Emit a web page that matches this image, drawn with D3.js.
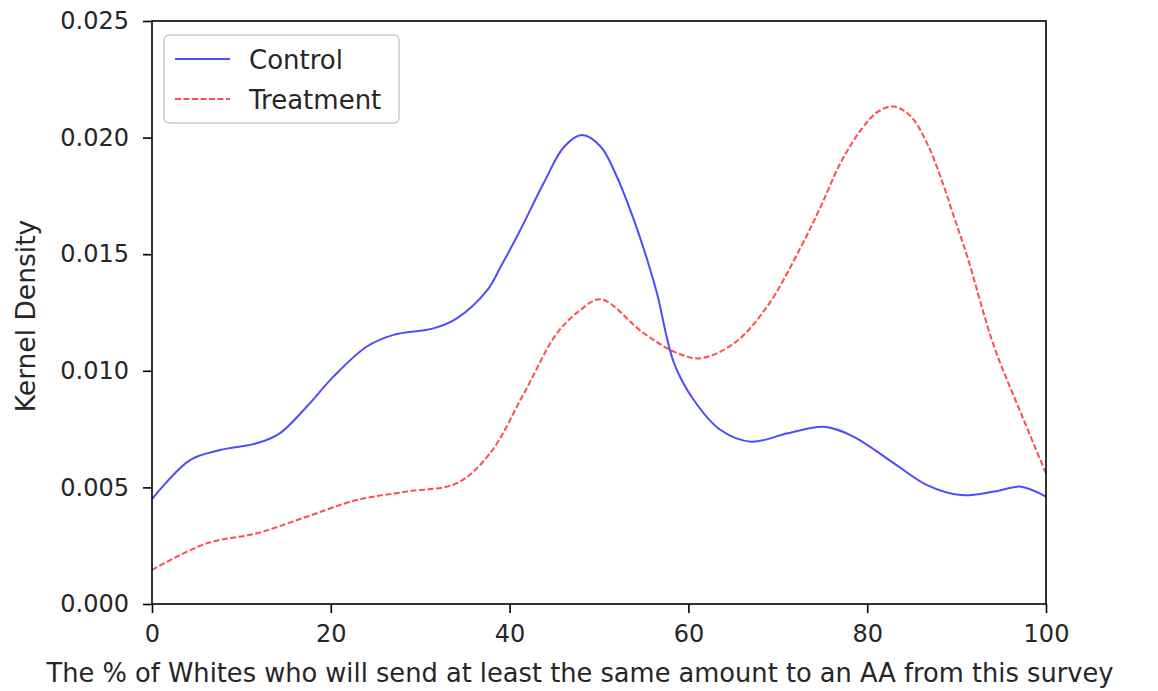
<!DOCTYPE html>
<html>
<head>
<meta charset="utf-8">
<script src="https://cdn.jsdelivr.net/npm/d3@7"></script>
<style>
  body { margin: 0; background: #fff; }
  text { font-family: "DejaVu Sans", sans-serif; fill: #262626; }
</style>
</head>
<body>
<div id="chart"></div>
<script>
// kernel density estimates
const controlX = [0, 4.25, 7.6, 11.7, 14.3, 17.3, 20.3, 24, 27, 31.5, 34.1, 37.5, 39, 41.2, 43.8, 46.1, 48.1, 50.2, 52, 53.9, 55.4, 56.5, 58.4, 60.6, 63.6, 67, 71.1, 75.2, 78.5, 83, 86.7, 90.5, 94.2, 97.2, 100];
const controlY = [0.0045, 0.00617, 0.0066, 0.00689, 0.00732, 0.00846, 0.00975, 0.01103, 0.01154, 0.01182, 0.01225, 0.01346, 0.01446, 0.01604, 0.01804, 0.01961, 0.02011, 0.01961, 0.01832, 0.01647, 0.01475, 0.0133, 0.01032, 0.00875, 0.00746, 0.00696, 0.00732, 0.0076, 0.00717, 0.00603, 0.0051, 0.00467, 0.00482, 0.00503, 0.0046];
const treatX = [0, 6.1, 11.7, 17.3, 22.9, 28.5, 34.1, 37.8, 41.6, 45.3, 47.9, 50.2, 55, 58.8, 61.4, 65.1, 68.8, 72.6, 74.8, 77, 79.3, 81.2, 83, 84.9, 86.7, 88.2, 89.7, 91.2, 94.2, 97.2, 100];
const treatY = [0.00146, 0.0026, 0.00303, 0.00374, 0.00446, 0.00482, 0.00518, 0.00646, 0.00903, 0.01161, 0.0126, 0.01307, 0.01161, 0.01075, 0.01054, 0.01118, 0.01275, 0.01532, 0.01704, 0.0189, 0.02033, 0.02111, 0.02133, 0.0209, 0.01975, 0.01832, 0.01661, 0.01489, 0.01103, 0.00818, 0.0056];
const xTicks = [0, 20, 40, 60, 80, 100];
const yTicks = [0, 0.005, 0.01, 0.015, 0.02, 0.025];
const seriesNames = ["Control", "Treatment"];

const W = 1158, H = 691;
const plotL = 152, plotR = 1046, plotT = 21, plotB = 604;

const svg = d3.select("#chart").append("svg").attr("width", W).attr("height", H);

const x = d3.scaleLinear().domain([0, 100]).range([plotL, plotR]);
const y = d3.scaleLinear().domain([0, 0.025]).range([plotB, plotT]);

const line = d3.line().x(d => x(d[0])).y(d => y(d[1])).curve(d3.curveCatmullRom.alpha(0.5));

svg.append("clipPath").attr("id", "clip")
    .append("rect").attr("x", plotL).attr("y", plotT).attr("width", plotR - plotL).attr("height", plotB - plotT);

svg.append("path")
    .datum(d3.zip(controlX, controlY))
    .attr("d", line)
    .attr("clip-path", "url(#clip)")
    .attr("fill", "none")
    .attr("stroke", "blue")
    .attr("stroke-opacity", 0.7)
    .attr("stroke-width", 2);

svg.append("path")
    .datum(d3.zip(treatX, treatY))
    .attr("d", line)
    .attr("clip-path", "url(#clip)")
    .attr("fill", "none")
    .attr("stroke", "red")
    .attr("stroke-opacity", 0.7)
    .attr("stroke-width", 2)
    .attr("stroke-dasharray", "6,2.5");

// axes
const xAxis = svg.append("g").attr("transform", `translate(0,${plotB})`)
    .call(d3.axisBottom(x).tickValues(xTicks).tickSize(9).tickPadding(12).tickFormat(d3.format("d")));
const yAxis = svg.append("g").attr("transform", `translate(${plotL},0)`)
    .call(d3.axisLeft(y).tickValues(yTicks).tickSize(9).tickPadding(14).tickFormat(d3.format(".3f")));

[xAxis, yAxis].forEach(a => {
    a.select(".domain").remove();
    a.selectAll(".tick line").attr("stroke", "#000").attr("stroke-width", 1.6);
    a.selectAll(".tick text").attr("font-size", 24).attr("fill", "#262626")
        .attr("font-family", "DejaVu Sans, sans-serif");
});

svg.append("rect")
    .attr("x", plotL).attr("y", plotT)
    .attr("width", plotR - plotL).attr("height", plotB - plotT)
    .attr("fill", "none").attr("stroke", "#000").attr("stroke-width", 1.6);

// axis labels
svg.append("text")
    .attr("x", 580).attr("y", 682)
    .attr("text-anchor", "middle").attr("font-size", 25.7)
    .text("The % of Whites who will send at least the same amount to an AA from this survey");

svg.append("text")
    .attr("transform", `translate(35,316) rotate(-90)`)
    .attr("text-anchor", "middle").attr("font-size", 26.5)
    .text("Kernel Density");

// legend
const lg = svg.append("g");
lg.append("rect")
    .attr("x", 164).attr("y", 35).attr("width", 235).attr("height", 88)
    .attr("rx", 5).attr("fill", "#fff").attr("fill-opacity", 0.8)
    .attr("stroke", "#cccccc").attr("stroke-width", 1.5);

seriesNames.forEach((name, i) => {
    const yy = 59 + i * 40;
    lg.append("line")
        .attr("x1", 175).attr("x2", 230).attr("y1", yy).attr("y2", yy)
        .attr("stroke", i === 0 ? "blue" : "red")
        .attr("stroke-opacity", 0.7).attr("stroke-width", 2)
        .attr("stroke-dasharray", i === 0 ? null : "6,2.5");
    lg.append("text")
        .attr("x", 249).attr("y", yy + 10).attr("font-size", 26)
        .text(name);
});
</script>
</body>
</html>
